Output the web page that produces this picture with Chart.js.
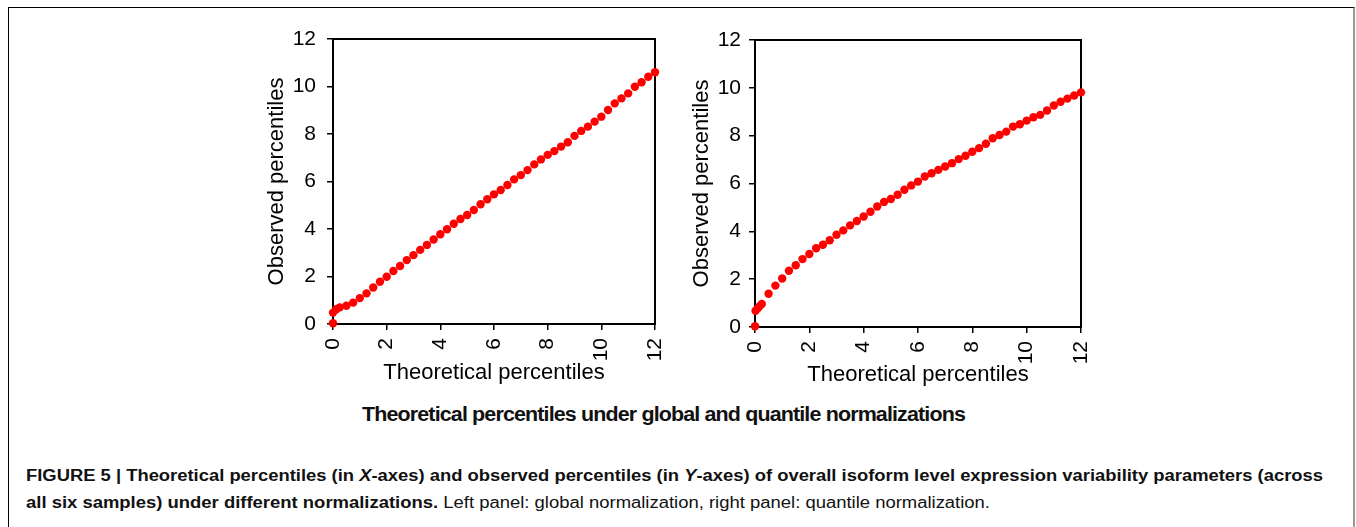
<!DOCTYPE html>
<html>
<head>
<meta charset="utf-8">
<script src="https://cdn.jsdelivr.net/npm/chart.js@4/dist/chart.umd.min.js"></script>
<style>
body{margin:0;width:1356px;height:527px;overflow:hidden;background:#fff;font-family:"Liberation Sans",Arial,sans-serif;position:relative}
.frame{position:absolute;left:8px;top:7px;width:1344px;height:600px;border-top:1px solid #000;border-left:1px solid #000;border-right:2px solid #999}
.box{position:absolute}
.fit{position:absolute;white-space:nowrap;transform-origin:0 50%;color:#111}
#midTitle{left:362px;top:403px;font-size:20px;font-weight:bold;letter-spacing:-0.8px}
#cap1{left:26px;top:467px;font-size:16px;font-weight:bold}
#cap2{left:26px;top:494px;font-size:16px}
#cap2 b{font-weight:bold}
</style>
</head>
<body>
<div class="frame"></div>
<div class="box" style="left:250px;top:20px;width:420px;height:370px"><canvas id="leftChart"></canvas></div>
<div class="box" style="left:672px;top:20px;width:420px;height:372px"><canvas id="rightChart"></canvas></div>
<div class="fit" id="midTitle" data-w="603">Theoretical percentiles under global and quantile normalizations</div>
<div class="fit" id="cap1" data-w="1297">FIGURE 5 | Theoretical percentiles (in <i>X</i>-axes) and observed percentiles (in <i>Y</i>-axes) of overall isoform level expression variability parameters (across</div>
<div class="fit" id="cap2" data-w="964"><b>all six samples) under different normalizations.</b> Left panel: global normalization, right panel: quantile normalization.</div>
<script>
// 축 눈금
var xTicks = [0, 2, 4, 6, 8, 10, 12];
var yTicks = [0, 2, 4, 6, 8, 10, 12];

// 왼쪽: global normalization
var leftX = [0, 0, 0.12, 0.25, 0.5, 0.75, 1, 1.25, 1.5, 1.75, 2, 2.25, 2.5, 2.75, 3, 3.25, 3.5, 3.75, 4, 4.25, 4.5, 4.75, 5, 5.25, 5.5, 5.75, 6, 6.25, 6.5, 6.75, 7, 7.25, 7.5, 7.75, 8, 8.25, 8.5, 8.75, 9, 9.25, 9.5, 9.75, 10, 10.25, 10.5, 10.75, 11, 11.25, 11.5, 11.75, 12];
var leftY = [0.03, 0.48, 0.62, 0.7, 0.77, 0.9, 1.09, 1.29, 1.54, 1.78, 1.99, 2.23, 2.44, 2.69, 2.9, 3.12, 3.33, 3.56, 3.78, 3.99, 4.22, 4.42, 4.59, 4.8, 5.04, 5.25, 5.46, 5.64, 5.85, 6.09, 6.27, 6.48, 6.72, 6.93, 7.12, 7.28, 7.47, 7.65, 7.92, 8.13, 8.31, 8.52, 8.73, 9.01, 9.29, 9.5, 9.71, 9.99, 10.18, 10.41, 10.6];

// 오른쪽: quantile normalization
var rightX = [0, 0.02, 0.1, 0.16, 0.25, 0.5, 0.75, 1, 1.25, 1.5, 1.75, 2, 2.25, 2.5, 2.75, 3, 3.25, 3.5, 3.75, 4, 4.25, 4.5, 4.75, 5, 5.25, 5.5, 5.75, 6, 6.25, 6.5, 6.75, 7, 7.25, 7.5, 7.75, 8, 8.25, 8.5, 8.75, 9, 9.25, 9.5, 9.75, 10, 10.25, 10.5, 10.75, 11, 11.25, 11.5, 11.75, 12];
var rightY = [0.03, 0.68, 0.78, 0.86, 0.96, 1.39, 1.73, 2.03, 2.35, 2.58, 2.84, 3.05, 3.29, 3.44, 3.63, 3.86, 4.04, 4.25, 4.43, 4.62, 4.82, 5.04, 5.23, 5.35, 5.53, 5.74, 5.92, 6.08, 6.29, 6.43, 6.57, 6.71, 6.85, 7.02, 7.16, 7.33, 7.48, 7.66, 7.89, 8.03, 8.17, 8.38, 8.48, 8.63, 8.77, 8.87, 9.05, 9.26, 9.42, 9.55, 9.68, 9.81];

var FONT = "'Liberation Sans', Arial, sans-serif";

// 플롯 테두리
var frameBox = {
	id: 'frameBox',
	beforeDatasetsDraw: function(chart){
		var a = chart.chartArea, c = chart.ctx;
		c.save();
		c.strokeStyle = '#000';
		c.lineWidth = 2;
		c.strokeRect(a.left, a.top, a.right - a.left, a.bottom - a.top);
		c.restore();
	}
};

function makeChart(id, xs, ys, opt){
	var pts = xs.map(function(x, i){ return {x: x, y: ys[i]}; });
	return new Chart(document.getElementById(id), {
		type: 'scatter',
		data: {datasets: [{
			data: pts,
			backgroundColor: '#ff0000',
			borderColor: '#ff0000',
			pointRadius: 4.2,
			pointHoverRadius: 4.2,
			borderWidth: 0,
			clip: false
		}]},
		options: {
			responsive: true,
			maintainAspectRatio: false,
			animation: false,
			layout: {padding: {left: 0, top: opt.top, right: opt.right, bottom: 0}},
			plugins: {legend: {display: false}, tooltip: {enabled: false}},
			scales: {
				x: {
					type: 'linear', min: 0, max: 12,
					afterBuildTicks: function(s){ s.ticks = xTicks.map(function(v){ return {value: v}; }); },
					afterFit: function(s){ s.height = opt.xh; s.paddingLeft = 0; s.paddingRight = 0; },
					border: {display: true, color: '#000', width: 2},
					grid: {display: true, drawOnChartArea: false, drawTicks: true, tickLength: 6, color: '#000', lineWidth: 1.5},
					ticks: {autoSkip: false, minRotation: 90, maxRotation: 90, padding: 8, color: '#000', font: {family: FONT, size: 21}},
					title: {display: true, text: 'Theoretical percentiles', color: '#000', font: {family: FONT, size: 22}, padding: {top: 0, bottom: 4}}
				},
				y: {
					type: 'linear', min: 0, max: 12,
					afterBuildTicks: function(s){ s.ticks = yTicks.map(function(v){ return {value: v}; }); },
					afterFit: function(s){ s.width = 83; s.paddingTop = 0; s.paddingBottom = 0; },
					border: {display: true, color: '#000', width: 2},
					grid: {display: true, drawOnChartArea: false, drawTicks: true, tickLength: 6, color: '#000', lineWidth: 1.5},
					ticks: {padding: opt.ypad, color: '#000', font: {family: FONT, size: 21}},
					title: {display: true, text: 'Observed percentiles', color: '#000', font: {family: FONT, size: 22}, padding: {top: opt.ytp, bottom: 0}}
				}
			}
		},
		plugins: [frameBox]
	});
}

makeChart('leftChart', leftX, leftY, {top: 19, right: 15, xh: 66, ypad: 11, ytp: 14});
makeChart('rightChart', rightX, rightY, {top: 20, right: 11, xh: 65, ypad: 8, ytp: 17});

// 캡션 폭 맞추기
var fits = document.getElementsByClassName('fit');
for (var i = 0; i < fits.length; i++){
	var el = fits[i];
	var w = el.getBoundingClientRect().width;
	var target = parseFloat(el.getAttribute('data-w'));
	el.style.transform = 'scaleX(' + (target / w) + ')';
}
</script>
</body>
</html>
